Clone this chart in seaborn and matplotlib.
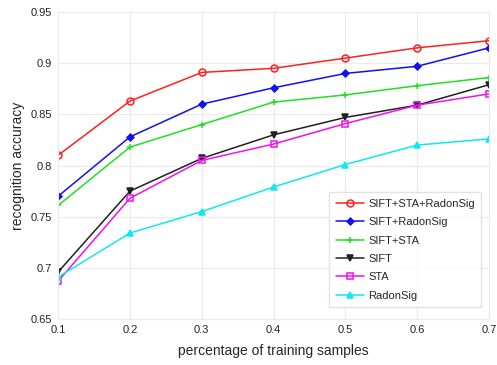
import matplotlib
matplotlib.use("Agg")
import matplotlib.pyplot as plt
import seaborn as sns
import pandas as pd
from matplotlib.ticker import FuncFormatter

# Datos
ratios = [0.1, 0.2, 0.3, 0.4, 0.5, 0.6, 0.7]
sift_sta_radon = [0.810, 0.863, 0.891, 0.895, 0.905, 0.915, 0.922]
sift_radon = [0.770, 0.828, 0.860, 0.876, 0.890, 0.897, 0.915]
sift_sta = [0.761, 0.818, 0.840, 0.862, 0.869, 0.878, 0.886]
sift = [0.696, 0.775, 0.807, 0.830, 0.847, 0.859, 0.879]
sta = [0.687, 0.768, 0.805, 0.821, 0.841, 0.859, 0.870]
radonsig = [0.691, 0.734, 0.755, 0.779, 0.801, 0.820, 0.826]

names = ['SIFT+STA+RadonSig', 'SIFT+RadonSig', 'SIFT+STA', 'SIFT', 'STA', 'RadonSig']
series = [sift_sta_radon, sift_radon, sift_sta, sift, sta, radonsig]
colors = ['#ff2020', '#1010f0', '#20e020', '#202020', '#f010f0', '#10e8f0']
markers = ['o', 'D', '+', 'v', 's', '^']
fills = ['none', 'full', 'full', 'full', 'none', 'full']

df = pd.DataFrame({
    'ratio': ratios * len(names),
    'acc': sum(series, []),
    'method': [n for n in names for _ in ratios],
})

sns.set_style('whitegrid')
plt.rcParams['font.family'] = ['Liberation Sans', 'DejaVu Sans']

fig = plt.figure(figsize=(4.97, 3.65), dpi=100)
ax = fig.add_axes([0.117, 0.126, 0.867, 0.841])

for name, c, m, f in zip(names, colors, markers, fills):
    sub = df[df['method'] == name]
    sns.lineplot(data=sub, x='ratio', y='acc', ax=ax, color=c, marker=m,
                 markersize=5 if m != 'D' else 3.5, linewidth=1.1, label=name,
                 markerfacecolor=(c if f == 'full' else 'none'),
                 markeredgecolor=c, markeredgewidth=1.1)

ax.set_xlim(0.1, 0.7)
ax.set_ylim(0.65, 0.95)
ax.set_xticks(ratios)
ax.set_yticks([0.65, 0.7, 0.75, 0.8, 0.85, 0.9, 0.95])
ax.xaxis.set_major_formatter(FuncFormatter(lambda v, p: '%g' % round(v, 2)))
ax.yaxis.set_major_formatter(FuncFormatter(lambda v, p: '%g' % round(v, 2)))
ax.tick_params(labelsize=8, pad=1, labelcolor='#222222')
ax.grid(color='#ebebeb', linewidth=0.8)
for s in ax.spines.values():
    s.set_color('#ebebeb')
ax.set_xlabel('percentage of training samples', fontsize=10, labelpad=6)
ax.set_ylabel('recognition accuracy', fontsize=10, labelpad=4)
ax.legend(loc='lower right', fontsize=8, frameon=True, fancybox=False,
          edgecolor='#dddddd', handlelength=2.5, borderpad=0.6, labelspacing=0.75,
          handletextpad=0.4, bbox_to_anchor=(0.995, 0.02))

fig.savefig('out.png', dpi=100)
